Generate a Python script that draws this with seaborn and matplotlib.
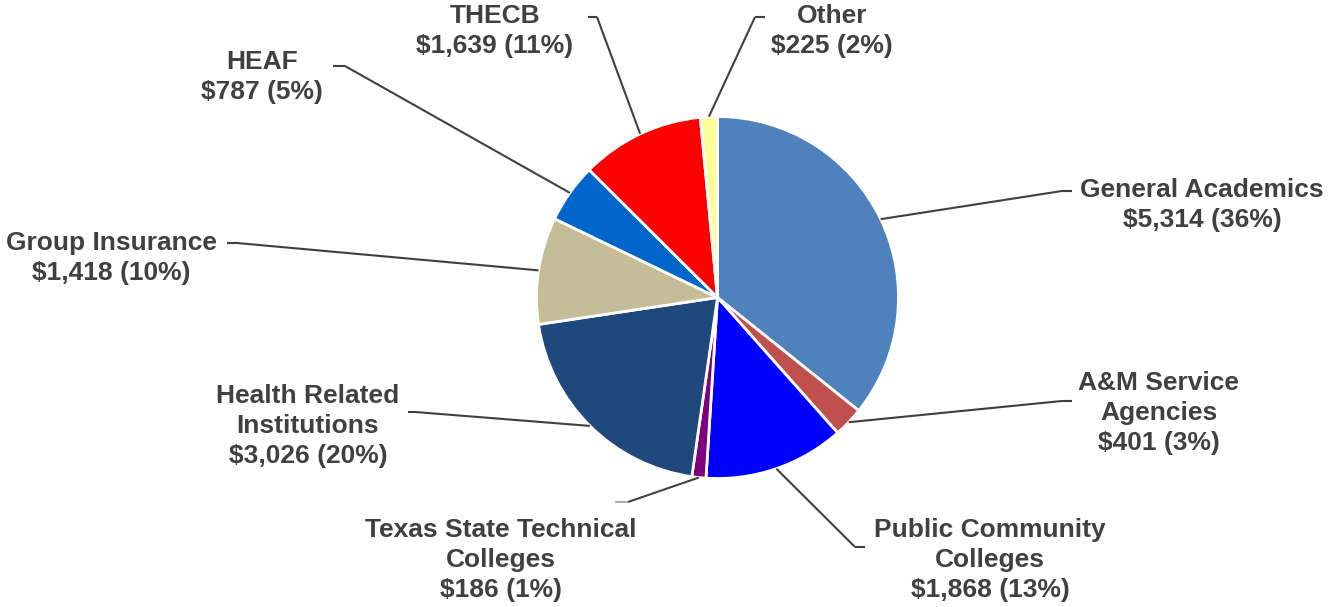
import numpy as np
import matplotlib
matplotlib.use("Agg")
import matplotlib.pyplot as plt
import seaborn as sns

categories = ["General Academics", "A&M Service\nAgencies", "Public Community\nColleges",
              "Texas State Technical\nColleges", "Health Related\nInstitutions",
              "Group Insurance", "HEAF", "THECB", "Other"]
values = [5314, 401, 1868, 186, 3026, 1418, 787, 1639, 225]
percent_labels = ["36%", "3%", "13%", "1%", "20%", "10%", "5%", "11%", "2%"]
colors = ["#4F81BD", "#C0504D", "#0000FF", "#7F007F", "#1F497D",
          "#C4BD97", "#0066CC", "#FF0000", "#FFFF99"]

# layout (pixel coordinates, y measured from top)
label_centers = [(1202, 205), (1159, 413), (990, 560), (501, 560), (308, 426),
                 (111, 258), (262, 77), (495, 31), (832, 31)]
knees = [(1062, 191), (1062, 401), (855, 547), (628, 502), (415, 412),
         (237, 243), (345, 66), (597, 17), (755, 17)]
ends = [(1072, 191), (1072, 401), (865, 547), (615, 502), (408, 412),
        (227, 243), (333, 66), (588, 17), (765, 17)]

W, H = 1328, 607
sns.set_theme(style="white")
plt.rcParams['font.family'] = ['Liberation Sans', 'DejaVu Sans']

fig = plt.figure(figsize=(W / 100, H / 100), dpi=100)
ax = fig.add_axes([0, 0, 1, 1])

cx, cy, R = 717.5, H - 297.5, 181
wedges, _ = ax.pie(values, colors=colors, startangle=90, counterclock=False,
                   center=(cx, cy), radius=R, frame=True,
                   wedgeprops=dict(edgecolor="white", linewidth=2))
ax.set_xlim(0, W)
ax.set_ylim(0, H)
ax.set_aspect('equal')
ax.axis('off')

txtcol = "#404040"
for i, w in enumerate(wedges):
    mid = np.deg2rad((w.theta1 + w.theta2) / 2)
    sx, sy = cx + R * np.cos(mid), cy + R * np.sin(mid)
    kx, ky = knees[i]
    ex, ey = ends[i]
    col = "#B0B0B0" if i == 3 else txtcol
    ax.plot([sx, kx], [sy, H - ky], color=txtcol, lw=1.5, solid_capstyle='butt')
    ax.plot([kx, ex], [H - ky, H - ey], color=col, lw=1.5, solid_capstyle='butt')
    lx, ly = label_centers[i]
    text = f"{categories[i]}\n${values[i]:,} ({percent_labels[i]})"
    ax.text(lx, H - ly, text, ha='center', va='center', fontsize=19,
            fontweight='bold', color=txtcol, linespacing=1.3)

fig.savefig("out.png", dpi=100)
